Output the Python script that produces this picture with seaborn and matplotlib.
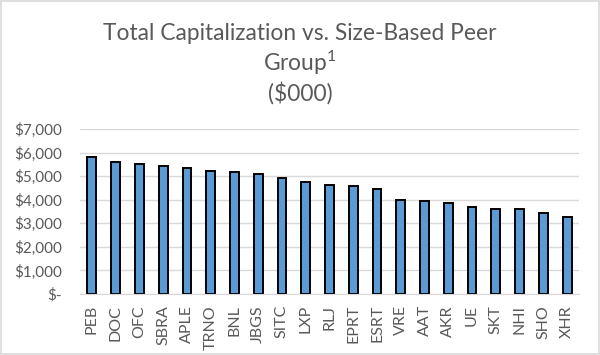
import matplotlib
matplotlib.use("Agg")
import matplotlib.pyplot as plt
import matplotlib.ticker as mticker
import seaborn as sns
import pandas as pd

# data ($000)
tickers = ["PEB", "DOC", "OFC", "SBRA", "APLE", "TRNO", "BNL", "JBGS", "SITC", "LXP", "RLJ",
           "EPRT", "ESRT", "VRE", "AAT", "AKR", "UE", "SKT", "NHI", "SHO", "XHR"]
total_cap = [5820, 5580, 5520, 5430, 5340, 5200, 5170, 5100, 4930, 4760, 4620,
             4600, 4460, 4000, 3940, 3860, 3700, 3620, 3590, 3450, 3280]
title_lines = ["Total Capitalization vs. Size-Based Peer", "Group$^{1}$", "($000)"]

df = pd.DataFrame({"ticker": tickers, "cap": total_cap})

sns.set_style("white")
plt.rcParams["font.family"] = ["Lato", "DejaVu Sans"]
plt.rcParams["mathtext.fontset"] = "custom"
plt.rcParams["mathtext.rm"] = "Lato"
plt.rcParams["mathtext.default"] = "regular"

grey = "#595959"
fig = plt.figure(figsize=(6, 3.55), dpi=100)
ax = fig.add_axes([80 / 600, 1 - 294 / 355, 499 / 600, 165 / 355])

sns.barplot(data=df, x="ticker", y="cap", color="#5B9BD5", saturation=1,
            width=0.37, edgecolor="black", linewidth=1.4, ax=ax)

ax.set_ylim(0, 7000)
ax.set_xlim(-0.5, len(tickers) - 0.5)
ax.yaxis.set_major_locator(mticker.MultipleLocator(1000))
ax.yaxis.set_major_formatter(mticker.FuncFormatter(
    lambda v, p: "$-" if v == 0 else f"${v:,.0f}"))
ax.grid(axis="y", color="#D9D9D9", linewidth=1)
ax.set_axisbelow(True)
for s in ["top", "right", "left"]:
    ax.spines[s].set_visible(False)
ax.spines["bottom"].set_color("#D9D9D9")
ax.set_xlabel("")
ax.set_ylabel("")
ax.tick_params(axis="x", rotation=90, labelsize=11.5, colors=grey, length=0, pad=8)
ax.tick_params(axis="y", labelsize=11, colors=grey, length=0, pad=13)

# title lines (baselines)
for txt, ypx in zip(title_lines, [40, 71, 101]):
    fig.text(0.5, 1 - ypx / 355, txt, ha="center", va="baseline",
             fontsize=16.4, color=grey)

# outer border
fig.patches.append(plt.Rectangle((0.002, 0.003), 0.996, 0.994, transform=fig.transFigure,
                                 fill=False, edgecolor="#D9D9D9", linewidth=1.2))

fig.savefig("out.png", dpi=100)
